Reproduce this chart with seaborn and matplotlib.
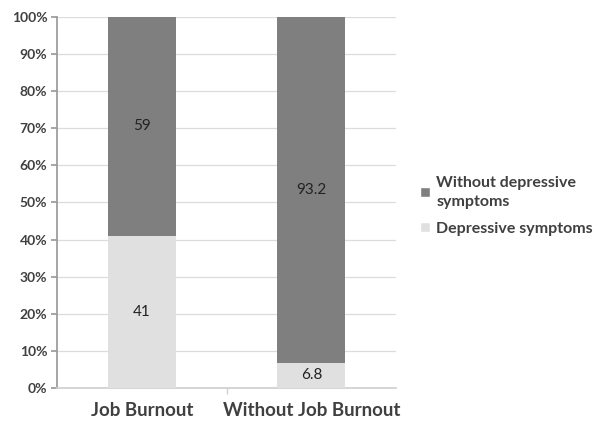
import matplotlib
matplotlib.use("Agg")
import matplotlib.pyplot as plt
import seaborn as sns
import pandas as pd
from matplotlib.patches import Patch
from matplotlib.ticker import FuncFormatter

categories = ["Job Burnout", "Without Job Burnout"]
depressive = [41, 6.8]
without_depressive = [59, 93.2]
yticks = [0, 10, 20, 30, 40, 50, 60, 70, 80, 90, 100]

dark = "#7f7f7f"
light = "#e0e0e0"

sns.set_theme(style="white")
plt.rcParams["font.family"] = ["Lato", "DejaVu Sans"]

df = pd.DataFrame({
    "category": categories,
    "depressive": depressive,
    "without": without_depressive,
})
df["total"] = df["depressive"] + df["without"]

fig = plt.figure(figsize=(5.97, 4.24), dpi=100)
ax = fig.add_axes([0.0955, 0.085, 0.568, 0.875])

# stacked bars: full height in dark, lower segment in light over it
sns.barplot(data=df, x="category", y="total", color=dark, width=0.4,
            saturation=1, linewidth=0, ax=ax, zorder=2)
sns.barplot(data=df, x="category", y="depressive", color=light, width=0.4,
            saturation=1, linewidth=0, ax=ax, zorder=3)

for i, (d, w) in enumerate(zip(depressive, without_depressive)):
    ax.text(i, d / 2, f"{d:g}", ha="center", va="center", fontsize=11,
            color="#222222", zorder=4)
    ax.text(i, d + w / 2, f"{w:g}", ha="center", va="center", fontsize=11,
            color="#222222", zorder=4)

ax.set_ylim(0, 100)
ax.set_xlim(-0.5, 1.5)
ax.set_yticks(yticks)
ax.yaxis.set_major_formatter(FuncFormatter(lambda v, p: f"{v:.0f}%"))
ax.set_xlabel("")
ax.set_ylabel("")
ax.grid(axis="y", color="#dcdcdc", linewidth=0.9, zorder=0)
ax.set_axisbelow(True)

for s in ["top", "right"]:
    ax.spines[s].set_visible(False)
ax.spines["left"].set_color("#9a9a9a")
ax.spines["bottom"].set_color("#d0d0d0")
ax.tick_params(axis="y", which="major", length=4, color="#9a9a9a",
               labelsize=10, labelcolor="#404040", pad=3, left=True)
ax.tick_params(axis="x", length=0, labelsize=13.5, labelcolor="#404040", pad=10)
for lab in ax.get_yticklabels():
    lab.set_fontweight("bold")
for lab in ax.get_xticklabels():
    lab.set_fontweight("bold")

# small tick separating the two categories on the baseline
ax.set_xticks([0.5], minor=True)
ax.tick_params(axis="x", which="minor", length=4, color="#d0d0d0", bottom=True)

handles = [Patch(facecolor=dark, label="Without depressive\nsymptoms"),
           Patch(facecolor=light, label="Depressive symptoms")]
leg = fig.legend(handles=handles, loc="center left",
                 bbox_to_anchor=(0.68, 0.515), frameon=False,
                 prop={"weight": "bold", "size": 11.5}, handlelength=0.6,
                 handleheight=0.6, handletextpad=0.4, labelspacing=0.8,
                 labelcolor="#404040")
for t in leg.get_texts():
    t.set_linespacing(1.45)

fig.savefig("out.png", dpi=100)
